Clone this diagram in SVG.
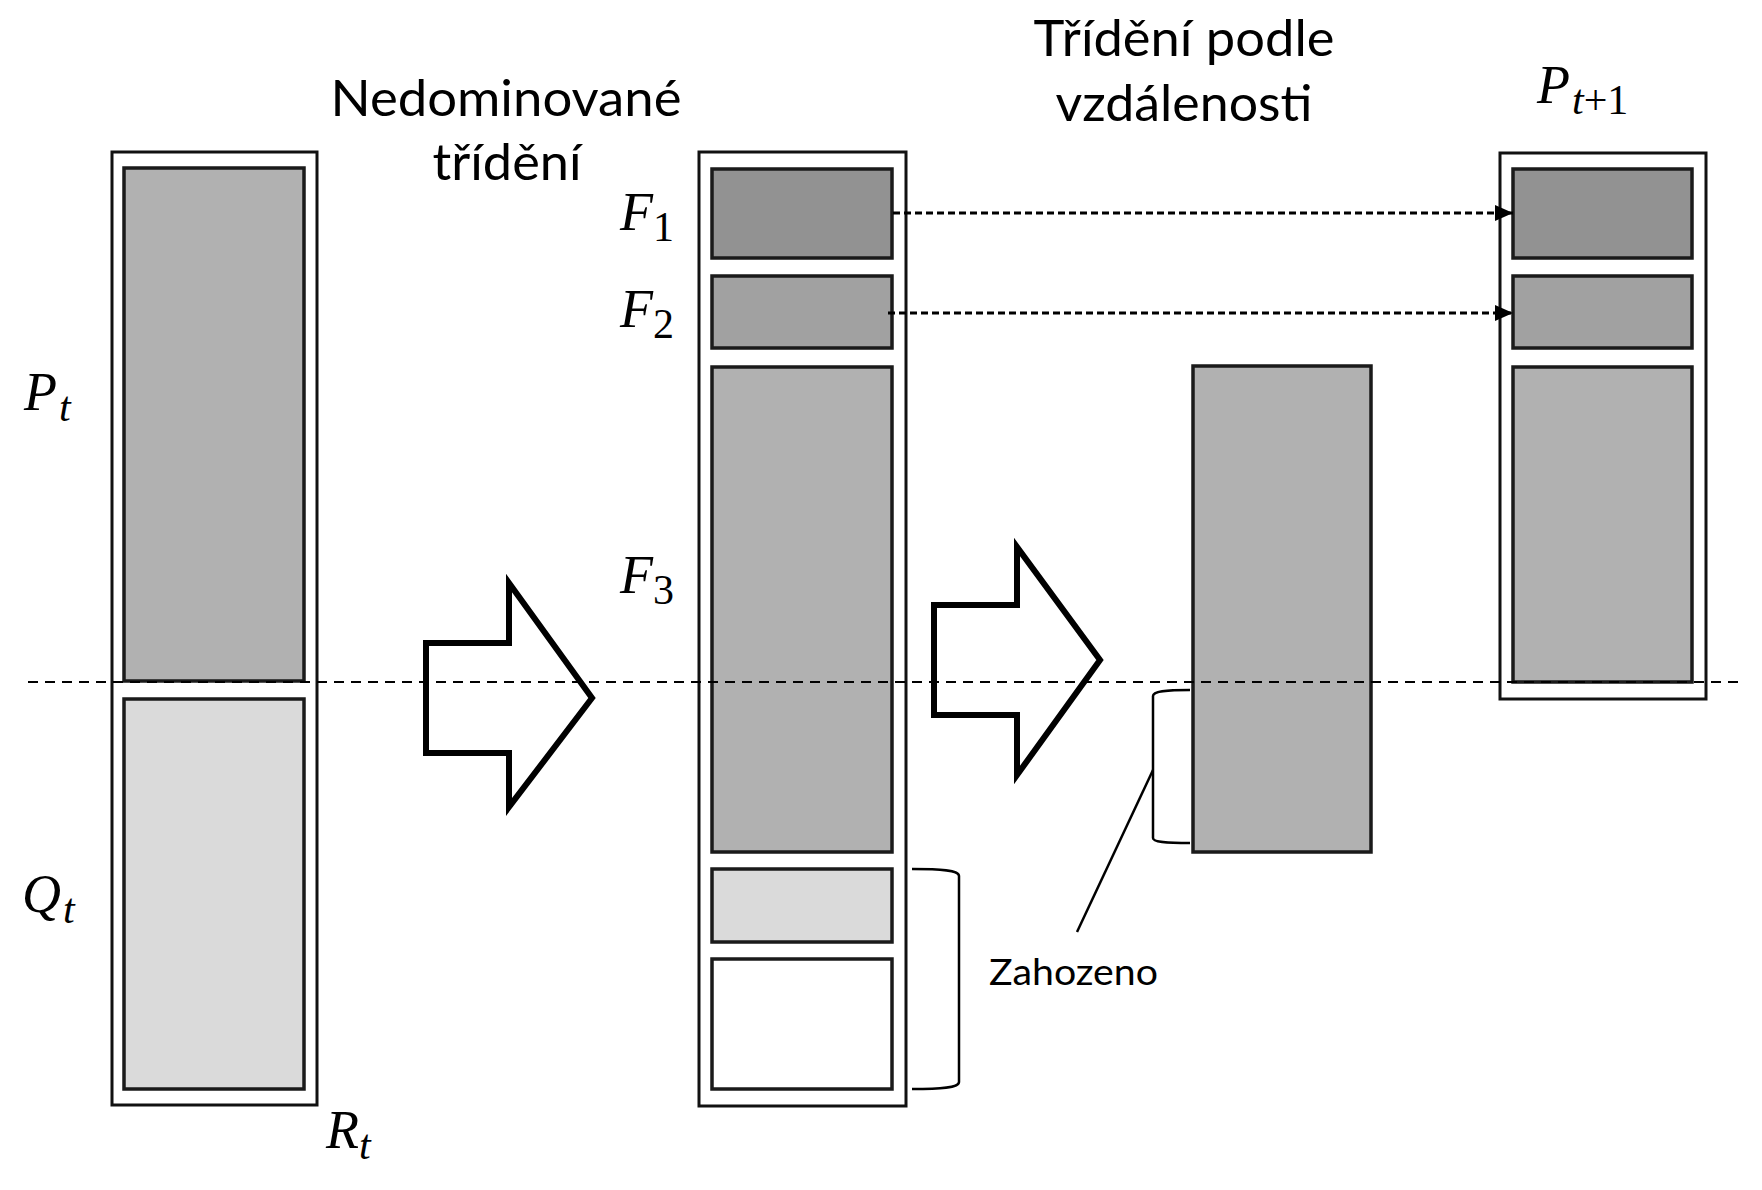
<svg xmlns="http://www.w3.org/2000/svg" width="1762" height="1190" viewBox="0 0 1762 1190">
<style>
.outer{fill:#fff;stroke:#111;stroke-width:3}
.inner{stroke:#1a1a1a;stroke-width:3.5}
.c1{fill:#929292}.c2{fill:#a1a1a1}.c3{fill:#b1b1b1}.c4{fill:#dadada}.c5{fill:#fff}
.blk{fill:#fff;stroke:#000;stroke-width:6;stroke-miterlimit:10}
.br{fill:none;stroke:#000;stroke-width:2.5}
.sep{fill:none;stroke:#000;stroke-width:2;stroke-dasharray:10 7}
.con{fill:none;stroke:#000;stroke-width:3;stroke-dasharray:7 4}
.t{font-family:Lato,"Open Sans",sans-serif;fill:#000}
.m{font-family:"Liberation Serif","Times New Roman",serif;font-style:italic;font-size:54px;fill:#000}
.s{font-size:42px}
.su{font-style:normal}
</style>
<defs>
<marker id="ah" markerWidth="18" markerHeight="16" refX="18" refY="8" orient="auto" markerUnits="userSpaceOnUse">
<path d="M0,0 L18,8 L0,16 Z" fill="#000"/>
</marker>
</defs>

<g id="Rt">
<rect class="outer" x="112" y="152" width="205" height="953"/>
<rect class="inner c3" x="124" y="168" width="180" height="513"/>
<rect class="inner c4" x="124" y="699" width="180" height="390"/>
</g>

<g id="sorted">
<rect class="outer" x="699" y="152" width="207" height="954"/>
<rect class="inner c1" x="712" y="169" width="180" height="89"/>
<rect class="inner c2" x="712" y="276" width="180" height="72"/>
<rect class="inner c3" x="712" y="367" width="180" height="485"/>
<rect class="inner c4" x="712" y="869" width="180" height="73"/>
<rect class="inner c5" x="712" y="959" width="180" height="130"/>
</g>

<g id="F3sorted">
<rect class="inner c3" x="1193" y="366" width="178" height="486"/>
</g>

<g id="Pt1">
<rect class="outer" x="1500" y="153" width="206" height="546"/>
<rect class="inner c1" x="1513" y="169" width="179" height="89"/>
<rect class="inner c2" x="1513" y="276" width="179" height="72"/>
<rect class="inner c3" x="1513" y="367" width="179" height="315"/>
</g>

<g id="arrow1">
<polygon class="blk" points="426,643 509,643 509,583 592,698 509,807 509,753 426,753"/>
</g>
<g id="arrow2">
<polygon class="blk" points="934,605 1017,605 1017,547 1100,660 1017,775 1017,715 934,715"/>
</g>

<g id="connectors">
<line class="sep" x1="28" y1="682" x2="1742" y2="682"/>
<line class="con" x1="893" y1="213" x2="1513" y2="213" marker-end="url(#ah)"/>
<line class="con" x1="888" y1="313" x2="1513" y2="313" marker-end="url(#ah)"/>
<path class="br" d="M912,869 C940,869 959,870 959,876 V1082 C959,1088 940,1089 912,1089"/>
<path class="br" d="M1190,690 C1165,690 1153,691 1153,696 V838 C1153,842 1165,843 1190,843"/>
<line class="br" x1="1153" y1="770" x2="1077" y2="932"/>
</g>

<g id="labels">
<text class="t" x="506" y="116" font-size="50" text-anchor="middle" textLength="351" lengthAdjust="spacingAndGlyphs">Nedominované</text>
<text class="t" x="507" y="180" font-size="50" text-anchor="middle" textLength="149" lengthAdjust="spacingAndGlyphs">třídění</text>
<text class="t" x="1184" y="56" font-size="50" text-anchor="middle" textLength="301" lengthAdjust="spacingAndGlyphs">Třídění podle</text>
<text class="t" x="1184" y="121" font-size="50" text-anchor="middle" textLength="257" lengthAdjust="spacingAndGlyphs">vzdálenosti</text>
<text class="t" x="989" y="985" font-size="37" textLength="169" lengthAdjust="spacingAndGlyphs">Zahozeno</text>

<text class="m" x="24" y="410">P<tspan class="s" dx="2" dy="11">t</tspan></text>
<text class="m" x="22" y="912">Q<tspan class="s" dx="2" dy="11">t</tspan></text>
<text class="m" x="326" y="1148">R<tspan class="s" dx="0" dy="11">t</tspan></text>
<text class="m" x="620" y="230">F<tspan class="s su" dx="0" dy="11">1</tspan></text>
<text class="m" x="620" y="327">F<tspan class="s su" dx="0" dy="11">2</tspan></text>
<text class="m" x="620" y="593">F<tspan class="s su" dx="0" dy="11">3</tspan></text>
<text class="m" x="1537" y="103">P<tspan class="s" dx="2" dy="11">t</tspan><tspan class="s su">+1</tspan></text>
</g>
</svg>
